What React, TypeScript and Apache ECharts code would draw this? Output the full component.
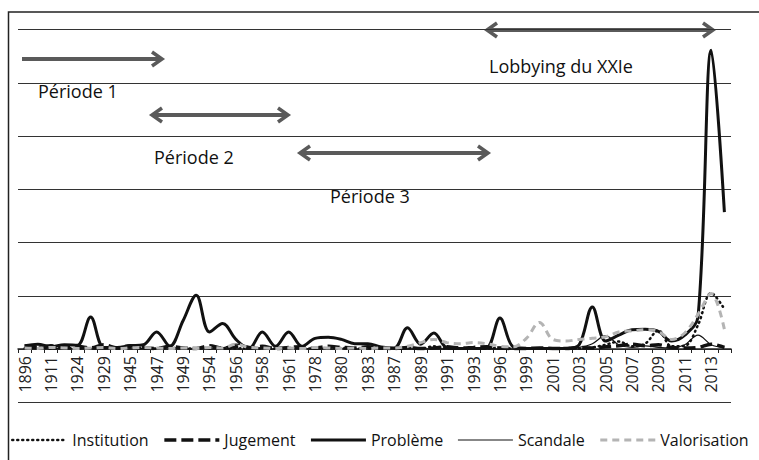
import React, { useEffect, useRef } from "react";
import * as echarts from "echarts";

const years = ['1896','1905','1911','1920','1924','1926','1929','1936','1945','1946','1947','1948','1949','1950','1954','1955','1956','1957','1958','1960','1961','1970','1978','1979','1980','1981','1983','1985','1987','1988','1989','1990','1991','1992','1993','1995','1996','1998','1999','2000','2001','2002','2003','2004','2005','2006','2007','2008','2009','2010','2011','2012','2013','2014'];

const institution = [0.1,0.3,0.1,0.2,0.1,0.1,0.2,0.1,0.3,0.1,0.1,0.2,0.1,0.1,0.2,0.1,0.1,0.2,0.1,0.1,0.2,0.1,0.1,0.1,0.2,0.1,0.1,0.1,0.1,0.2,0.1,0.5,0.1,0.1,0.1,0.1,0.2,0.1,0.1,0.1,0.1,0.2,0.1,0.3,0.8,1.4,0.5,1.0,3.5,0.5,0.6,4.5,10.5,7.5];
const jugement = [0.5,0.3,0.6,0.2,0.5,0.2,0.8,0.2,0.6,0.3,0.1,0.5,0.2,0.1,0.6,0.2,0.4,0.2,0.5,0.1,0.3,0.4,0.2,0.5,0.3,0.2,0.4,0.2,0.1,0.3,0.1,0.2,0.4,0.2,0.3,0.4,0.2,0.1,0.1,0.2,0.1,0.1,0.3,0.2,0.4,0.6,0.9,0.6,0.8,0.3,0.2,0.3,0.9,0.3];
const probleme = [0.6,0.9,0.4,0.8,0.7,6.0,0.3,0.3,0.6,0.8,3.2,0.5,5.3,10.1,3.2,4.8,1.8,0.1,3.2,0.5,3.2,0.5,2.0,2.2,1.8,1.0,1.0,0.4,0.2,4.0,0.9,3.0,0.2,0.1,0.1,0.2,5.8,0.4,0.1,0.1,0.1,0.1,0.8,7.9,1.5,2.6,3.6,3.7,3.3,1.5,2.6,6.0,56.1,25.7];
const scandale = [0.1,0,0.2,0,0.1,0,0.1,0,0,0.1,0,0,0.1,0,0,0.2,0.9,0.5,0.1,0,0,0.1,0,0,0.1,0,0,0,0.1,0,0,0.1,0,0,0,0.1,0,0,0,0.1,0,0,0.3,1.0,2.5,0.8,0.3,0.6,0.3,0.2,0.8,2.6,0.8,0.2];
const valorisation = [0.2,0.1,0.3,0.2,0.1,0.2,0.3,0.1,0.2,0.3,0.2,0.1,0.2,0.1,0.3,0.2,0.9,0.3,0.2,0.1,0.2,0.1,0.3,0.2,0.1,0.2,0.1,0.2,0.2,0.5,1.2,1.8,1.2,1.0,1.2,1.0,0.5,0.4,2.0,5.0,1.8,1.5,1.8,2.0,2.3,3.2,3.4,3.6,3.3,1.8,3.0,6.5,10.4,3.7];

const seriesNames = ['Institution', 'Jugement', 'Problème', 'Scandale', 'Valorisation'];

const annotations = [
  { text: 'Période 1', x: 38, y: 91 },
  { text: 'Période 2', x: 154, y: 157 },
  { text: 'Période 3', x: 330, y: 196 },
  { text: 'Lobbying du XXIe', x: 489, y: 66 },
];

const arrows = [
  { x1: 22, x2: 162, y: 59, left: false, right: true },
  { x1: 152, x2: 288, y: 115, left: true, right: true },
  { x1: 300, x2: 488, y: 153, left: true, right: true },
  { x1: 487, x2: 713, y: 30, left: true, right: true },
];

const ARROW_COLOR = '#5a5a5a';

const lineStyles: Record<string, any> = {
  Institution: { color: '#111', width: 2.5, type: [1, 4], cap: 'round' },
  Jugement: { color: '#111', width: 3.5, type: [12, 5] },
  Problème: { color: '#111', width: 3, type: 'solid' },
  Scandale: { color: '#111', width: 1.2, type: 'solid' },
  Valorisation: { color: '#b4b4b4', width: 3, type: [7, 5] },
};

function arrowGraphics() {
  const out: any[] = [];
  arrows.forEach((a) => {
    out.push({
      type: 'line',
      shape: { x1: a.x1 + (a.left ? 3 : 0), y1: a.y, x2: a.x2 - (a.right ? 3 : 0), y2: a.y },
      style: { stroke: ARROW_COLOR, lineWidth: 4 },
      silent: true,
    });
    if (a.right) {
      out.push({
        type: 'polyline',
        shape: { points: [[a.x2 - 10, a.y - 7], [a.x2, a.y], [a.x2 - 10, a.y + 7]] },
        style: { stroke: ARROW_COLOR, lineWidth: 3.5, fill: null, lineJoin: 'miter' },
        silent: true,
      });
    }
    if (a.left) {
      out.push({
        type: 'polyline',
        shape: { points: [[a.x1 + 10, a.y - 7], [a.x1, a.y], [a.x1 + 10, a.y + 7]] },
        style: { stroke: ARROW_COLOR, lineWidth: 3.5, fill: null, lineJoin: 'miter' },
        silent: true,
      });
    }
  });
  return out;
}

export default function App() {
  const ref = useRef<HTMLDivElement>(null);
  useEffect(() => {
    if (!ref.current) return;
    const chart = echarts.init(ref.current, null, { renderer: 'svg' });
    const font = '"Open Sans", "DejaVu Sans", sans-serif';
    const mk = (name: string, data: number[], z: number) => ({
      name,
      type: 'line',
      data,
      smooth: 0.35,
      symbol: 'none',
      lineStyle: lineStyles[name],
      itemStyle: { color: lineStyles[name].color },
      z,
    });
    chart.setOption({
      animation: false,
      backgroundColor: '#ffffff',
      grid: { left: 18, right: 28, top: 29.5, bottom: 111, containLabel: false },
      xAxis: {
        type: 'category',
        data: years,
        boundaryGap: true,
        axisLine: { lineStyle: { color: '#222', width: 1.5 } },
        axisTick: { show: true, interval: 0, length: 4, lineStyle: { color: '#222', width: 1 } },
        axisLabel: {
          interval: 1,
          rotate: 90,
          color: '#222',
          fontFamily: font,
          fontSize: 16,
          margin: 7,
        },
        splitLine: { show: false },
      },
      yAxis: {
        type: 'value',
        min: 0,
        max: 60,
        interval: 10,
        axisLabel: { show: false },
        axisLine: { show: false },
        axisTick: { show: false },
        splitLine: { show: true, lineStyle: { color: '#333', width: 1 } },
      },
      legend: {
        data: seriesNames.map((n) => ({ name: n, lineStyle: { ...lineStyles[n] } })),
        left: 6,
        top: 427,
        itemWidth: 55,
        itemHeight: 10,
        itemGap: 14,
        itemStyle: { opacity: 0 },
        textStyle: { fontFamily: font, fontSize: 16, color: '#111' },
      },
      graphic: [
        {
          type: 'rect',
          shape: { x: 8.5, y: 12, width: 800, height: 500 },
          style: { stroke: '#222', lineWidth: 1.5, fill: null },
          silent: true,
          z: 100,
        },
        {
          type: 'line',
          shape: { x1: 18, y1: 402.5, x2: 731, y2: 402.5 },
          style: { stroke: '#333', lineWidth: 1 },
          silent: true,
        },
        ...arrowGraphics(),
        ...annotations.map((a) => ({
          type: 'text',
          x: a.x,
          y: a.y,
          style: {
            text: a.text,
            fill: '#111',
            font: `18px ${font}`,
            verticalAlign: 'middle',
          },
          silent: true,
        })),
      ],
      series: [
        mk('Institution', institution, 3),
        mk('Jugement', jugement, 4),
        mk('Problème', probleme, 5),
        mk('Scandale', scandale, 2),
        mk('Valorisation', valorisation, 6),
      ],
    });
    return () => chart.dispose();
  }, []);
  return (
    <div
      ref={ref}
      style={{ position: 'fixed', left: 0, top: 0, width: 759, height: 460, background: '#fff' }}
    />
  );
}
